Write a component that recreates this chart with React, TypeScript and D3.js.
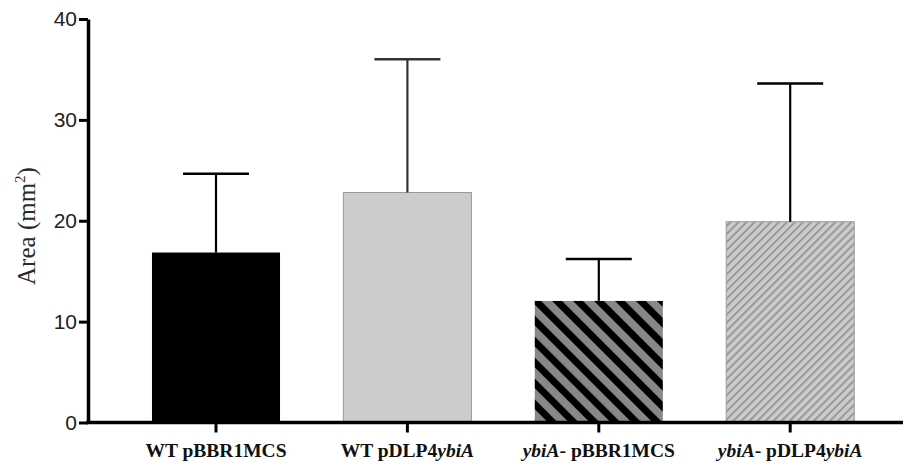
import { useRef, useEffect } from 'react';
import * as d3 from 'd3';

const WIDTH = 908;
const HEIGHT = 465;

// Bar categories: [plain part, italic part] segments per label
const categories = ['WT pBBR1MCS', 'WT pDLP4ybiA', 'ybiA- pBBR1MCS', 'ybiA- pDLP4ybiA'];
const labelParts: [string, boolean][][] = [
  [['WT pBBR1MCS', false]],
  [['WT pDLP4', false], ['ybiA', true]],
  [['ybiA', true], ['- pBBR1MCS', false]],
  [['ybiA', true], ['- pDLP4', false], ['ybiA', true]],
];
const means = [16.85, 22.8, 12.05, 19.9];
const upperErr = [24.65, 36.0, 16.2, 33.6];
const yTicks = [0, 10, 20, 30, 40];

const fills = ['#000000', '#cccccc', 'url(#hatchDark)', 'url(#hatchLight)'];
const strokes = ['none', '#999999', 'none', '#999999'];
const errColors = ['#000000', '#333333', '#000000', '#000000'];

export default function App() {
  const svgRef = useRef<SVGSVGElement>(null);

  useEffect(() => {
    if (!svgRef.current) return;
    const svg = d3.select(svgRef.current);
    svg.selectAll('*').remove();

    // ── Patterns ────────────────────────────────────────────────────────────
    const defs = svg.append('defs');
    const dark = defs
      .append('pattern')
      .attr('id', 'hatchDark')
      .attr('patternUnits', 'userSpaceOnUse')
      .attr('width', 14.8)
      .attr('height', 14.8)
      .attr('patternTransform', 'rotate(-45)');
    dark.append('rect').attr('width', 14.8).attr('height', 14.8).attr('fill', '#888888');
    dark.append('rect').attr('width', 7).attr('height', 14.8).attr('fill', '#000000');

    const light = defs
      .append('pattern')
      .attr('id', 'hatchLight')
      .attr('patternUnits', 'userSpaceOnUse')
      .attr('width', 5.7)
      .attr('height', 5.7)
      .attr('patternTransform', 'rotate(45)');
    light.append('rect').attr('width', 5.7).attr('height', 5.7).attr('fill', '#cccccc');
    light.append('rect').attr('width', 2).attr('height', 5.7).attr('fill', '#999999');

    // ── Scales ──────────────────────────────────────────────────────────────
    const x = d3.scaleBand<string>().domain(categories).range([120.3, 885.9]).paddingInner(0.331).paddingOuter(0.1655);
    const y = d3.scaleLinear().domain([0, 40]).range([422.5, 19]);

    // ── Bars ────────────────────────────────────────────────────────────────
    svg
      .append('g')
      .selectAll('rect')
      .data(means)
      .join('rect')
      .attr('x', (_, i) => x(categories[i])!)
      .attr('width', x.bandwidth())
      .attr('y', (d) => y(d))
      .attr('height', (d) => y(0) - y(d))
      .attr('fill', (_, i) => fills[i])
      .attr('stroke', (_, i) => strokes[i])
      .attr('stroke-width', 1);

    // ── Error bars (upper only) ─────────────────────────────────────────────
    const eg = svg.append('g');
    means.forEach((m, i) => {
      const cx = x(categories[i])! + x.bandwidth() / 2;
      eg.append('line')
        .attr('x1', cx).attr('x2', cx)
        .attr('y1', y(m)).attr('y2', y(upperErr[i]))
        .attr('stroke', errColors[i]).attr('stroke-width', 2.2);
      eg.append('line')
        .attr('x1', cx - 33).attr('x2', cx + 33)
        .attr('y1', y(upperErr[i])).attr('y2', y(upperErr[i]))
        .attr('stroke', errColors[i]).attr('stroke-width', 2.5);
    });

    // ── Y axis ──────────────────────────────────────────────────────────────
    const yAxis = svg
      .append('g')
      .attr('transform', 'translate(88,0)')
      .call(d3.axisLeft(y).tickValues(yTicks).tickSize(9).tickPadding(2).tickSizeOuter(0));
    yAxis.attr('font-size', null).attr('font-family', null);
    yAxis.select('.domain').attr('stroke', '#000').attr('stroke-width', 3.5);
    yAxis.selectAll('.tick line').attr('stroke', '#000').attr('stroke-width', 3);
    yAxis
      .selectAll('.tick text')
      .style('font-family', '"Liberation Sans", Arial, sans-serif')
      .style('font-size', '21px')
      .attr('fill', '#222');

    // ── X axis ──────────────────────────────────────────────────────────────
    const xAxisG = svg.append('g').attr('transform', `translate(0,${y(0)})`);
    xAxisG.append('line')
      .attr('x1', 86.3).attr('x2', 903)
      .attr('stroke', '#000').attr('stroke-width', 3.5);
    categories.forEach((c, i) => {
      const cx = x(c)! + x.bandwidth() / 2;
      xAxisG.append('line')
        .attr('x1', cx).attr('x2', cx)
        .attr('y1', 0).attr('y2', 10)
        .attr('stroke', '#000').attr('stroke-width', 3);
      const t = xAxisG.append('text')
        .attr('x', cx)
        .attr('y', 34.5)
        .attr('text-anchor', 'middle')
        .attr('font-family', 'Liberation Serif, Times New Roman, serif')
        .attr('font-weight', 'bold')
        .attr('font-size', '19.5px')
        .attr('fill', '#111');
      labelParts[i].forEach(([s, it]) => {
        t.append('tspan').attr('font-style', it ? 'italic' : 'normal').text(s);
      });
    });

    // ── Y label ─────────────────────────────────────────────────────────────
    const yl = svg.append('text')
      .attr('transform', 'translate(35,226) rotate(-90)')
      .attr('text-anchor', 'middle')
      .attr('font-family', 'Liberation Serif, Times New Roman, serif')
      .attr('font-size', '25px')
      .attr('fill', '#2a2a2a');
    yl.append('tspan').text('Area (mm');
    yl.append('tspan').attr('font-size', '15px').attr('dy', -10).text('2');
    yl.append('tspan').attr('dy', 10).text(')');
  }, []);

  return (
    <svg
      ref={svgRef}
      width={WIDTH}
      height={HEIGHT}
      style={{ position: 'absolute', left: 0, top: 0, background: '#fff' }}
    />
  );
}
